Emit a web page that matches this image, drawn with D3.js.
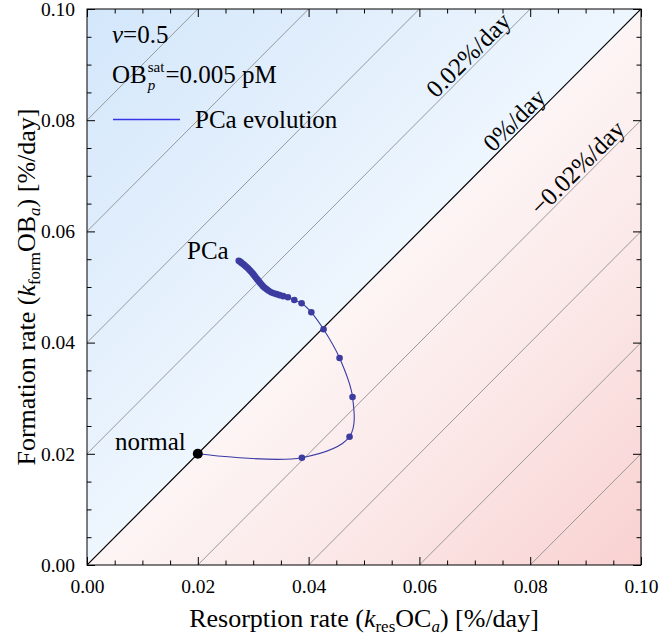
<!DOCTYPE html>
<html><head><meta charset="utf-8">
<script src="https://cdn.jsdelivr.net/npm/d3@7"></script>
<style>
body{margin:0;background:#fff;}
svg{display:block;}
text{font-family:"Liberation Serif","Times New Roman",serif;fill:#000;}
</style>
</head><body>
<svg id="chart" width="660" height="639"></svg>
<script>
// ---- data ----
const xDomain = [0, 0.1];
const yDomain = [0, 0.1];
const tickValues = [0, 0.02, 0.04, 0.06, 0.08, 0.10];
const minorStep = 0.005;
const contourOffsets = [-0.08, -0.06, -0.04, -0.02, 0.02, 0.04, 0.06, 0.08];
const labelTexts = ["0.02%/day", "0%/day", "\u22120.02%/day"];
const labelOffsets = [0.02, 0, -0.02];
const labelAtX = [0.0703, 0.0786, 0.0900];
const normalPoint = [0.0200, 0.0200];
const trajX = [0.0200, 0.03879, 0.04739, 0.04793, 0.04559, 0.04270, 0.04049, 0.03874, 0.03742, 0.03627,
  0.03541, 0.03477, 0.03423, 0.03369, 0.03324, 0.03279, 0.03243, 0.03207, 0.03177, 0.03150,
  0.03123, 0.03099, 0.03074, 0.03050, 0.03027, 0.03004, 0.02980, 0.02955, 0.02930, 0.02905,
  0.02879, 0.02854, 0.02829, 0.02804, 0.02780, 0.02759, 0.02739];
const trajY = [0.0200, 0.01930, 0.02308, 0.03022, 0.03723, 0.04239, 0.04545, 0.04707, 0.04766, 0.04815,
  0.04835, 0.04853, 0.04871, 0.04887, 0.04906, 0.04932, 0.04959, 0.04986, 0.05014, 0.05045,
  0.05076, 0.05106, 0.05137, 0.05167, 0.05198, 0.05227, 0.05255, 0.05282, 0.05309, 0.05335,
  0.05360, 0.05383, 0.05405, 0.05424, 0.05442, 0.05459, 0.05473];

// ---- layout ----
const svg = d3.select("#chart");
const L = 87, R = 641, T = 9, B = 565;
const x = d3.scaleLinear().domain(xDomain).range([L, R]);
const y = d3.scaleLinear().domain(yDomain).range([B, T]);

const defs = svg.append("defs");
const grad = defs.append("linearGradient").attr("id", "bg")
  .attr("gradientUnits", "userSpaceOnUse")
  .attr("x1", x(0)).attr("y1", y(0.1)).attr("x2", x(0.1)).attr("y2", y(0));
[[0, "#d3e7fb"], [0.25, "#e1eefc"], [0.4999, "#eef6fe"], [0.5001, "#fdf5f5"], [0.75, "#fbe5e5"], [1, "#f9d1d1"]]
  .forEach(([o, c]) => grad.append("stop").attr("offset", o).attr("stop-color", c));
defs.append("clipPath").attr("id", "clip").append("rect")
  .attr("x", L).attr("y", T).attr("width", R - L).attr("height", B - T);

svg.append("rect").attr("x", L).attr("y", T).attr("width", R - L).attr("height", B - T)
  .attr("fill", "url(#bg)");

const plot = svg.append("g").attr("clip-path", "url(#clip)");
// contour lines y = x + c
plot.selectAll("line.contour").data(contourOffsets).join("line")
  .attr("class", "contour")
  .attr("x1", c => x(Math.max(0, -c))).attr("y1", c => y(Math.max(0, -c) + c))
  .attr("x2", c => x(Math.min(0.1, 0.1 - c))).attr("y2", c => y(Math.min(0.1, 0.1 - c) + c))
  .attr("stroke", "#8e8e8e").attr("stroke-width", 0.9);
plot.append("line")
  .attr("x1", x(0)).attr("y1", y(0)).attr("x2", x(0.1)).attr("y2", y(0.1))
  .attr("stroke", "#000").attr("stroke-width", 1.2);

// contour labels
const ang = Math.atan2(y(0.1) - y(0), x(0.1) - x(0)) * 180 / Math.PI;
labelTexts.forEach((t, i) => {
  const px = x(labelAtX[i]), py = y(labelAtX[i] + labelOffsets[i]);
  svg.append("text").attr("transform", `translate(${px},${py}) rotate(${ang})`)
    .attr("text-anchor", "middle").attr("dy", -3).attr("font-size", 25).text(t);
});

// trajectory
const pts = trajX.map((v, i) => [v, trajY[i]]);
plot.append("path").datum(pts)
  .attr("d", d3.line().x(d => x(d[0])).y(d => y(d[1])).curve(d3.curveCatmullRom.alpha(0.5)))
  .attr("fill", "none").attr("stroke", "#3a3aa6").attr("stroke-width", 1.1);
plot.selectAll("circle.dot").data(pts.slice(1)).join("circle")
  .attr("class", "dot")
  .attr("cx", d => x(d[0])).attr("cy", d => y(d[1])).attr("r", 3.3)
  .attr("fill", "#3c3ca0");
plot.append("circle").attr("cx", x(normalPoint[0])).attr("cy", y(normalPoint[1]))
  .attr("r", 5).attr("fill", "#000");

// frame and ticks
svg.append("rect").attr("x", L).attr("y", T).attr("width", R - L).attr("height", B - T)
  .attr("fill", "none").attr("stroke", "#000").attr("stroke-width", 1);
const minor = d3.range(0, 0.1 + 1e-9, minorStep).filter(v => !tickValues.some(t => Math.abs(t - v) < 1e-9));
const axB = d3.axisBottom(x).tickValues(tickValues).tickFormat(d3.format(".2f")).tickSizeInner(-8).tickSizeOuter(0).tickPadding(14);
const axL = d3.axisLeft(y).tickValues(tickValues).tickFormat(d3.format(".2f")).tickSizeInner(-8).tickSizeOuter(0).tickPadding(12);
const axT = d3.axisTop(x).tickValues(tickValues).tickFormat("").tickSizeInner(-8).tickSizeOuter(0);
const axR = d3.axisRight(y).tickValues(tickValues).tickFormat("").tickSizeInner(-8).tickSizeOuter(0);
const mB = d3.axisBottom(x).tickValues(minor).tickFormat("").tickSizeInner(-4.5).tickSizeOuter(0);
const mL = d3.axisLeft(y).tickValues(minor).tickFormat("").tickSizeInner(-4.5).tickSizeOuter(0);
const mT = d3.axisTop(x).tickValues(minor).tickFormat("").tickSizeInner(-4.5).tickSizeOuter(0);
const mR = d3.axisRight(y).tickValues(minor).tickFormat("").tickSizeInner(-4.5).tickSizeOuter(0);
function place(ax, tr) {
  const g = svg.append("g").attr("transform", tr).call(ax);
  g.select(".domain").remove();
  g.selectAll("line").attr("stroke", "#000").attr("stroke-width", 1);
  g.selectAll("text").attr("font-size", 19.5).attr("font-family", '"Liberation Serif","Times New Roman",serif').attr("fill", "#000");
  return g;
}
place(axB, `translate(0,${B})`); place(mB, `translate(0,${B})`);
place(axT, `translate(0,${T})`); place(mT, `translate(0,${T})`);
place(axL, `translate(${L},0)`); place(mL, `translate(${L},0)`);
place(axR, `translate(${R},0)`); place(mR, `translate(${R},0)`);

// axis titles
const xt = svg.append("text").attr("x", (L + R) / 2).attr("y", 627).attr("text-anchor", "middle").attr("font-size", 26);
xt.append("tspan").text("Resorption rate (");
xt.append("tspan").attr("font-style", "italic").text("k");
xt.append("tspan").attr("font-size", 17).attr("dy", 5).text("res");
xt.append("tspan").attr("dy", -5).text("OC");
xt.append("tspan").attr("font-size", 17).attr("font-style", "italic").attr("dy", 5).text("a");
xt.append("tspan").attr("dy", -5).text(") [%/day]");

const yt = svg.append("text").attr("transform", `translate(35,${(T + B) / 2}) rotate(-90)`).attr("text-anchor", "middle").attr("font-size", 26);
yt.append("tspan").text("Formation rate (");
yt.append("tspan").attr("font-style", "italic").text("k");
yt.append("tspan").attr("font-size", 17).attr("dy", 5).text("form");
yt.append("tspan").attr("dy", -5).text("OB");
yt.append("tspan").attr("font-size", 17).attr("font-style", "italic").attr("dy", 5).text("a");
yt.append("tspan").attr("dy", -5).text(") [%/day]");

// legend / annotations
const nu = svg.append("text").attr("x", 112).attr("y", 43).attr("font-size", 25);
nu.append("tspan").attr("font-style", "italic").text("\u03bd");
nu.append("tspan").text("=0.5");

const ob = svg.append("text").attr("x", 112).attr("y", 83).attr("font-size", 25).text("OB");
const obW = ob.node().getComputedTextLength();
const sat = svg.append("text").attr("x", 112 + obW + 1).attr("y", 72).attr("font-size", 15).text("sat");
svg.append("text").attr("x", 112 + obW + 1).attr("y", 90).attr("font-size", 15).attr("font-style", "italic").text("p");
const satW = sat.node().getComputedTextLength();
svg.append("text").attr("x", 112 + obW + 1 + satW + 1).attr("y", 83).attr("font-size", 25).text("=0.005 pM");

svg.append("line").attr("x1", 113).attr("x2", 180).attr("y1", 119.5).attr("y2", 119.5)
  .attr("stroke", "#3636e6").attr("stroke-width", 1.3);
svg.append("text").attr("x", 195).attr("y", 128).attr("font-size", 25).text("PCa evolution");

svg.append("text").attr("x", 187).attr("y", 259).attr("font-size", 25).text("PCa");
svg.append("text").attr("x", 115).attr("y", 450).attr("font-size", 25).text("normal");
</script>
</body></html>
